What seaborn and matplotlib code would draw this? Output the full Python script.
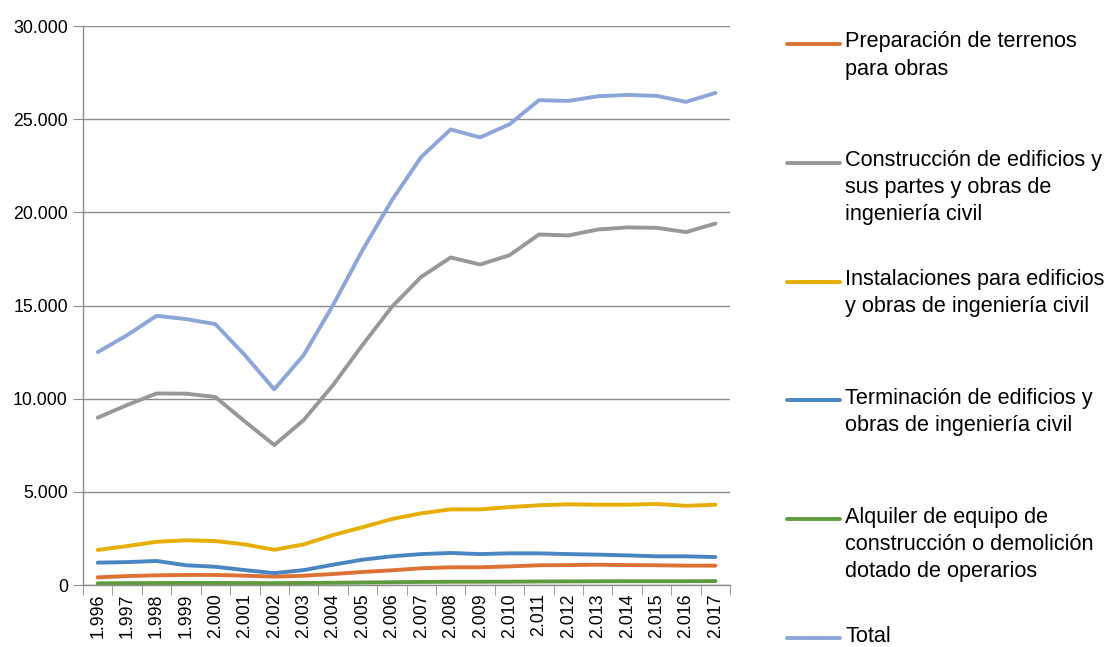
import matplotlib
matplotlib.use("Agg")
import matplotlib.pyplot as plt
from matplotlib.lines import Line2D
from matplotlib.ticker import FixedLocator, FuncFormatter
import pandas as pd
import seaborn as sns

years = list(range(1996, 2018))

preparacion = [410, 480, 520, 540, 540, 500, 450, 500, 590, 700, 790, 900,
               950, 950, 1000, 1060, 1070, 1090, 1070, 1060, 1040, 1040]
construccion = [8980, 9660, 10280, 10270, 10090, 8780, 7510, 8850, 10730, 12880, 14930, 16540,
                17580, 17200, 17700, 18810, 18760, 19080, 19190, 19170, 18940, 19400]
instalaciones = [1880, 2090, 2320, 2400, 2360, 2180, 1890, 2180, 2680, 3100, 3540, 3850,
                 4060, 4060, 4180, 4280, 4330, 4310, 4310, 4350, 4250, 4310]
terminacion = [1200, 1230, 1290, 1060, 980, 800, 640, 800, 1090, 1360, 1540, 1660,
               1720, 1660, 1700, 1700, 1660, 1630, 1590, 1540, 1540, 1500]
alquiler = [90, 100, 105, 110, 110, 105, 100, 110, 120, 135, 150, 165,
            175, 175, 180, 190, 195, 200, 205, 205, 205, 210]
total = [12500, 13410, 14450, 14270, 14000, 12340, 10500, 12340, 15020, 17970, 20650, 22980,
         24450, 24020, 24730, 26020, 25980, 26230, 26300, 26250, 25930, 26410]

series_names = [
    "Preparación de terrenos\npara obras",
    "Construcción de edificios y\nsus partes y obras de\ningeniería civil",
    "Instalaciones para edificios\ny obras de ingeniería civil",
    "Terminación de edificios y\nobras de ingeniería civil",
    "Alquiler de equipo de\nconstrucción o demolición\ndotado de operarios",
    "Total",
]
series_values = [preparacion, construccion, instalaciones, terminacion, alquiler, total]
colors = ["#DD7234", "#989898", "#E6AE00", "#4A86C2", "#5E9B3C", "#8CA6DA"]

rows = []
for name, vals in zip(series_names, series_values):
    for y, v in zip(years, vals):
        rows.append({"year": y, "value": v, "serie": name})
df = pd.DataFrame(rows)

sns.set_style("white")
plt.rcParams["font.family"] = ["Liberation Sans", "DejaVu Sans"]
plt.rcParams["text.color"] = "black"
plt.rcParams["xtick.color"] = "black"
plt.rcParams["ytick.color"] = "black"

fig = plt.figure(figsize=(11.1, 6.47), dpi=100)
ax = fig.add_axes([0.0748, 0.0958, 0.583, 0.864])

sns.lineplot(data=df, x="year", y="value", hue="serie", hue_order=series_names,
             palette=colors, linewidth=2.8, legend=False, ax=ax)

ax.set_xlim(years[0] - 0.5, years[-1] + 0.5)
ax.set_ylim(0, 30000)
ax.set_xlabel("")
ax.set_ylabel("")

ax.set_yticks(range(0, 30001, 5000))
ax.yaxis.set_major_formatter(FuncFormatter(lambda v, p: f"{int(v):,}".replace(",", ".")))
ax.set_xticks(years)
ax.set_xticklabels([f"{y:,}".replace(",", ".") for y in years], rotation=90)
ax.xaxis.set_minor_locator(FixedLocator([y - 0.5 for y in years] + [years[-1] + 0.5]))

ax.grid(axis="y", color="#8C8C8C", linewidth=1.0)
ax.set_axisbelow(True)
for s in ["top", "right"]:
    ax.spines[s].set_visible(False)
for s in ["left", "bottom"]:
    ax.spines[s].set_color("#8C8C8C")
    ax.spines[s].set_linewidth(1.0)

ax.tick_params(axis="y", which="major", left=True, length=7, color="#8C8C8C",
               labelcolor="black", labelsize=12.8, pad=4)
ax.tick_params(axis="x", which="major", bottom=False, length=0, labelcolor="black",
               labelsize=12.8, pad=6)
ax.tick_params(axis="x", which="minor", bottom=True, length=7, color="#8C8C8C")

# leyenda a la derecha, entradas repartidas a igual distancia
y0 = 1 - 44 / 647
step = 118.8 / 647
for i, (name, c) in enumerate(zip(series_names, colors)):
    yy = y0 - i * step
    fig.add_artist(Line2D([787 / 1110, 840 / 1110], [yy, yy], color=c, linewidth=2.8,
                          transform=fig.transFigure))
    fig.text(845 / 1110, yy + 12.5 / 647, name, ha="left", va="top", fontsize=15.6,
             color="black", linespacing=1.38)

fig.savefig("out.png", dpi=100)
